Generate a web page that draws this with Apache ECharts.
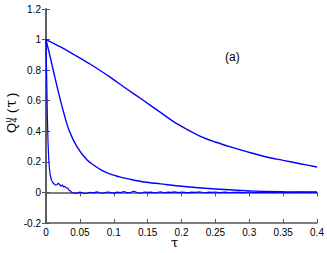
<!DOCTYPE html>
<html><head><meta charset="utf-8">
<script src="https://cdn.jsdelivr.net/npm/echarts@6/dist/echarts.min.js"></script>
<style>html,body{margin:0;padding:0;background:#fff}#c{width:327px;height:253px}</style>
</head><body><div id="c"></div>
<script>
const slowTau = [0,0.02,0.04,0.065,0.094,0.115,0.1435,0.17,0.193,0.227,0.25,0.276,0.3,0.3255,0.35,0.375,0.4];
const slowVal = [1,0.955,0.905,0.84,0.756,0.69,0.603,0.52,0.45,0.369,0.33,0.293,0.262,0.232,0.21,0.188,0.166];
const midTau = [0,0.006,0.0118,0.0192,0.0265,0.034,0.046,0.061,0.071,0.081,0.095,0.11,0.12,0.145,0.169,0.2,0.25,0.3,0.35,0.4];
const midVal = [1,0.89,0.778,0.64,0.516,0.407,0.297,0.21,0.177,0.148,0.12,0.1,0.09,0.068,0.056,0.04,0.022,0.01,0.005,0.003];
const fastTau = [0,0.001,0.002,0.003,0.004,0.005,0.006,0.008,0.01,0.012,0.014,0.016,0.018,0.02,0.022,0.024,0.026,0.028,0.03,0.032,0.034,0.036,0.038,0.04,0.042,
0.045,0.05,0.055,0.06,0.065,0.07,0.075,0.08,0.085,0.09,
0.095,0.1,0.105,0.11,0.115,0.12,0.125,0.13,0.135,0.14,
0.145,0.15,0.155,0.16,0.165,0.17,0.175,0.18,0.185,0.19,
0.195,0.2,0.205,0.21,0.215,0.22,0.225,0.23,0.235,0.24,
0.245,0.25,0.255,0.26,0.265,0.27,0.275,0.28,0.285,0.29,
0.295,0.3,0.305,0.31,0.315,0.32,0.325,0.33,0.335,0.34,
0.345,0.35,0.355,0.36,0.365,0.37,0.375,0.38,0.385,0.39,
0.395,0.4];
const fastVal = [1,0.75,0.5,0.33,0.22,0.16,0.12,0.08,0.065,0.055,0.048,0.05,0.06,0.052,0.04,0.05,0.035,0.04,0.03,0.028,0.015,0.01,0.0,-0.004,-0.002,
-0.006,0.002,-0.004,-0.007,0.001,-0.003,0.004,-0.002,-0.005,0.003,
0.0,-0.004,0.002,-0.001,0.006,-0.003,0.001,0.008,-0.002,-0.005,
0.003,0.0,0.002,-0.004,0.001,0.003,-0.002,0.002,0.0,0.004,
-0.001,0.002,0.001,-0.003,0.002,0.0,0.003,0.001,-0.002,0.002,
0.0,0.003,-0.001,0.001,0.002,-0.002,0.001,0.0,0.002,-0.001,
0.001,0.003,0.0,-0.001,0.002,0.001,0.0,0.002,-0.001,0.001,
0.0,0.002,0.001,-0.001,0.001,0.0,0.002,0.001,0.0,0.001,
0.0,0.001];
const xTicks = ['0','0.05','0.1','0.15','0.2','0.25','0.3','0.35','0.4'];
const yTicks = ['-0.2','0','0.2','0.4','0.6','0.8','1','1.2'];

const zip = (a,b) => a.map((v,i)=>[v,b[i]]);
const ax = '#555';
const font = 'Liberation Sans, Arial, sans-serif';
const serif = 'DejaVu Serif, serif';
const chart = echarts.init(document.getElementById('c'), null, {renderer:'svg'});
const lineStyle = {color:'#0000ff', width:1.4};
const rot = (text, x, y, size, fam) => ({type:'text', x, y, rotation:Math.PI/2,
  style:{text, fontSize:size, fontFamily:fam || font, fill:'#000', align:'left', verticalAlign:'bottom', textAlign:'left', textVerticalAlign:'bottom'}});
chart.setOption({
  animation:false,
  grid:{left:46, right:10, top:9, bottom:30, outerBoundsMode:'none', containLabel:false},
  xAxis:[{
    type:'value', min:0, max:0.4, interval:0.05,
    axisLine:{show:true, onZero:false, lineStyle:{color:ax, width:1.5}},
    axisTick:{inside:true, length:4, lineStyle:{color:ax}},
    axisLabel:{color:'#000', fontSize:10, fontFamily:font, margin:4,
      formatter:(v)=>{const s=xTicks.find(t=>Math.abs(parseFloat(t)-v)<1e-9);return s===undefined?'':s;}},
    splitLine:{show:false}
  },{
    type:'value', min:0, max:0.4, interval:0.05, position:'top',
    axisLine:{show:true, lineStyle:{color:ax, width:1.5}},
    axisTick:{inside:true, length:4, lineStyle:{color:ax}},
    axisLabel:{show:false}, splitLine:{show:false}
  }],
  yAxis:[{
    type:'value', min:-0.2, max:1.2, interval:0.2,
    axisLine:{show:true, onZero:false, lineStyle:{color:ax, width:1.5}},
    axisTick:{inside:true, length:4, lineStyle:{color:ax}},
    axisLabel:{color:'#000', fontSize:10, fontFamily:font, margin:5,
      formatter:(v)=>{const s=yTicks.find(t=>Math.abs(parseFloat(t)-v)<1e-9);return s===undefined?'':s;}},
    splitLine:{show:false}
  },{
    type:'value', min:-0.2, max:1.2, interval:0.2, position:'right',
    axisLine:{show:true, lineStyle:{color:ax, width:1.5}},
    axisTick:{inside:true, length:4, lineStyle:{color:ax}},
    axisLabel:{show:false}, splitLine:{show:false}
  }],
  series:[
    {type:'line', data:zip(slowTau,slowVal), showSymbol:false, smooth:0.3, lineStyle},
    {type:'line', data:zip(midTau,midVal), showSymbol:false, smooth:0.3, lineStyle},
    {type:'line', data:zip(fastTau,fastVal), showSymbol:false, lineStyle:{color:'#0000ff', width:1.2}}
  ],
  graphic:[
    {type:'text', left:225, top:51, style:{text:'(a)', fontSize:12, fontFamily:font, fill:'#000'}},
    {type:'text', left:171, top:236, style:{text:'τ', fontSize:13, fontFamily:serif, fill:'#000'}},
    rot('Q', 18, 133, 13),
    rot('u', 12.5, 122.5, 9),
    rot('4', 18, 122.5, 9),
    rot('(', 18, 113, 13),
    rot('τ', 18, 107.5, 14, serif),
    rot(')', 18, 97, 13)
  ]
});
</script></body></html>
